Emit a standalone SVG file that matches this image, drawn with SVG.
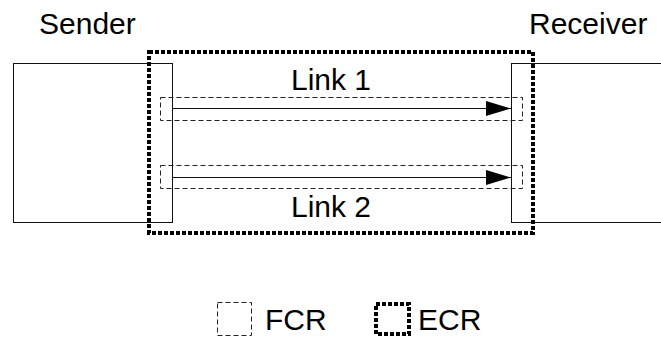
<svg xmlns="http://www.w3.org/2000/svg" width="661" height="338" viewBox="0 0 661 338">
  <style>
    .label { font-family: "Liberation Sans", Arial, sans-serif; font-size: 30px; fill: #000; }
    .host { fill: #fff; stroke: #111; stroke-width: 1; }
    .fcr { fill: none; stroke: #222; stroke-width: 1; stroke-dasharray: 5 3; }
    .ecr { fill: none; stroke: #000; stroke-width: 4; stroke-dasharray: 4 2; }
    .link { stroke: #111; stroke-width: 1; fill: none; }
  </style>
  <defs>
    <marker id="head" markerWidth="25" markerHeight="15" refX="25" refY="7.5" orient="auto" markerUnits="userSpaceOnUse">
      <polygon points="0,0 25,7.5 0,15" fill="#000"/>
    </marker>
  </defs>
  <rect width="661" height="338" fill="#fff"/>

  <!-- hosts, strokes placed on half pixels so 1px lines stay crisp -->
  <g id="sender">
    <rect class="host" x="13.5" y="63.5" width="159" height="159"/>
    <text class="label" x="39" y="34">Sender</text>
  </g>
  <g id="receiver">
    <rect class="host" x="511.5" y="63.5" width="170" height="159"/>
    <text class="label" x="529" y="34">Receiver</text>
  </g>

  <g id="connectors">
    <line class="link" x1="172" y1="108.5" x2="511" y2="108.5" marker-end="url(#head)"/>
    <line class="link" x1="172" y1="177.5" x2="511" y2="177.5" marker-end="url(#head)"/>
  </g>

  <g id="link1">
    <rect class="fcr" x="160.5" y="97.5" width="362" height="23"/>
    <text class="label" x="291" y="90">Link 1</text>
  </g>
  <g id="link2">
    <rect class="fcr" x="160.5" y="165.5" width="362" height="23"/>
    <text class="label" x="291" y="217">Link 2</text>
  </g>

  <g id="ecr-region">
    <rect class="ecr" x="149" y="52" width="384" height="181"/>
  </g>

  <g id="legend">
    <rect class="fcr" x="217.5" y="302.5" width="34" height="33"/>
    <text class="label" x="265" y="330">FCR</text>
    <rect class="ecr" x="376" y="304" width="33" height="30"/>
    <text class="label" x="418" y="330">ECR</text>
  </g>
</svg>
